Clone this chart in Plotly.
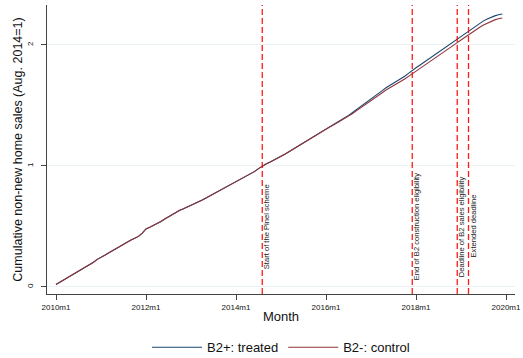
import plotly.graph_objects as go

# Monthly index: 0 = 2010m1 ... 119 = 2019m12
months = list(range(120))

control = [
    0.020, 0.038, 0.056, 0.075, 0.094, 0.113, 0.132, 0.150, 0.168, 0.186,
    0.204, 0.228, 0.243, 0.262, 0.280, 0.298, 0.316, 0.337, 0.357, 0.372,
    0.388, 0.403, 0.418, 0.445, 0.480, 0.494, 0.508, 0.522, 0.541, 0.561,
    0.581, 0.599, 0.617, 0.634, 0.647, 0.660, 0.673, 0.687, 0.701, 0.718,
    0.735, 0.752, 0.768, 0.784, 0.798, 0.815, 0.833, 0.852, 0.870, 0.886,
    0.901, 0.917, 0.935, 0.955, 0.978, 1.000, 1.016, 1.031, 1.046, 1.062,
    1.078, 1.097, 1.116, 1.135, 1.154, 1.174, 1.193, 1.212, 1.232, 1.252,
    1.271, 1.290, 1.306, 1.322, 1.339, 1.357, 1.374, 1.390, 1.411, 1.432,
    1.453, 1.474, 1.496, 1.517, 1.536, 1.560, 1.584, 1.605, 1.628, 1.645,
    1.663, 1.680, 1.697, 1.718, 1.740, 1.761, 1.781, 1.802, 1.823, 1.845,
    1.866, 1.887, 1.909, 1.931, 1.953, 1.975, 1.997, 2.019, 2.041, 2.063,
    2.085, 2.106, 2.126, 2.146, 2.165, 2.181, 2.195, 2.207, 2.216, 2.223,
]

treated = [
    0.020, 0.038, 0.056, 0.075, 0.094, 0.113, 0.132, 0.150, 0.168, 0.186,
    0.204, 0.228, 0.243, 0.262, 0.280, 0.298, 0.316, 0.337, 0.357, 0.372,
    0.388, 0.403, 0.418, 0.445, 0.480, 0.494, 0.508, 0.522, 0.541, 0.561,
    0.581, 0.599, 0.617, 0.634, 0.647, 0.660, 0.673, 0.687, 0.701, 0.718,
    0.735, 0.752, 0.768, 0.784, 0.798, 0.815, 0.833, 0.852, 0.870, 0.886,
    0.901, 0.917, 0.935, 0.955, 0.978, 1.000, 1.016, 1.031, 1.046, 1.062,
    1.078, 1.097, 1.116, 1.135, 1.154, 1.174, 1.194, 1.214, 1.234, 1.254,
    1.274, 1.293, 1.309, 1.326, 1.343, 1.362, 1.379, 1.396, 1.418, 1.440,
    1.462, 1.484, 1.507, 1.529, 1.550, 1.575, 1.600, 1.622, 1.646, 1.664,
    1.683, 1.701, 1.719, 1.741, 1.765, 1.790, 1.811, 1.832, 1.854, 1.876,
    1.897, 1.919, 1.941, 1.963, 1.985, 2.007, 2.029, 2.051, 2.074, 2.096,
    2.118, 2.140, 2.160, 2.180, 2.199, 2.215, 2.229, 2.240, 2.249, 2.256,
]

tick_months = [0, 24, 48, 72, 96, 120]
tick_labels = ["2010m1", "2012m1", "2014m1", "2016m1", "2018m1", "2020m1"]

event_months = [55, 95, 107, 110]
event_labels = [
    "Start of the Pinel scheme",
    "End of B2 construction eligibility",
    "Deadline of B2 sales eligibility",
    "Extended deadline",
]

fig = go.Figure()
fig.add_trace(go.Scatter(x=months, y=treated, mode="lines", name="B2+: treated",
                         line=dict(color="#1a476f", width=1.1)))
fig.add_trace(go.Scatter(x=months, y=control, mode="lines", name="B2-: control",
                         line=dict(color="#90353b", width=1.1)))

for m, lab in zip(event_months, event_labels):
    fig.add_shape(type="line", x0=m, x1=m, y0=0, y1=1, xref="x", yref="paper",
                  line=dict(color="rgba(255,0,0,0.9)", width=1.3, dash="6px,3px"))
    fig.add_annotation(x=m, y=0.5, xref="x", yref="y", text=lab, textangle=-90,
                       showarrow=False, xanchor="center", yanchor="middle", xshift=4.5,
                       font=dict(family="Liberation Sans, Arial", size=7.6, color="#222"))

fig.update_layout(
    width=523, height=358,
    margin=dict(l=47, r=8, t=5, b=64),
    paper_bgcolor="white", plot_bgcolor="white",
    font=dict(family="Liberation Sans, Arial", color="#111"),
    showlegend=True,
    legend=dict(orientation="h", x=0.5, xanchor="center",
                yref="container", y=0.03, yanchor="middle",
                font=dict(size=13), itemwidth=50),
)
fig.update_xaxes(
    range=[-2.4, 122.4], tickvals=tick_months, ticktext=tick_labels,
    showline=True, linecolor="#444", linewidth=1, ticks="outside", ticklen=5,
    tickcolor="#444", tickfont=dict(size=8), showgrid=False, zeroline=False,
    automargin=False,
    title=dict(text="Month", font=dict(size=13), standoff=1),
)
fig.update_yaxes(
    range=[-0.058, 2.33], tickvals=[0, 1, 2], ticktext=["0", "1", "2"],
    tickangle=-90, showline=True, linecolor="#444", linewidth=1, ticks="outside",
    ticklen=5, tickcolor="#444", tickfont=dict(size=8), ticklabelstandoff=5,
    showgrid=True, gridcolor="#eaf2f3", gridwidth=1, zeroline=False,
    automargin=False,
    title=dict(text="Cumulative non-new home sales (Aug. 2014=1)", font=dict(size=12.5), standoff=0),
)

fig.write_html("out.html", config={"displayModeBar": False},
               post_script="document.body.style.margin='0';document.body.style.overflow='hidden';")
